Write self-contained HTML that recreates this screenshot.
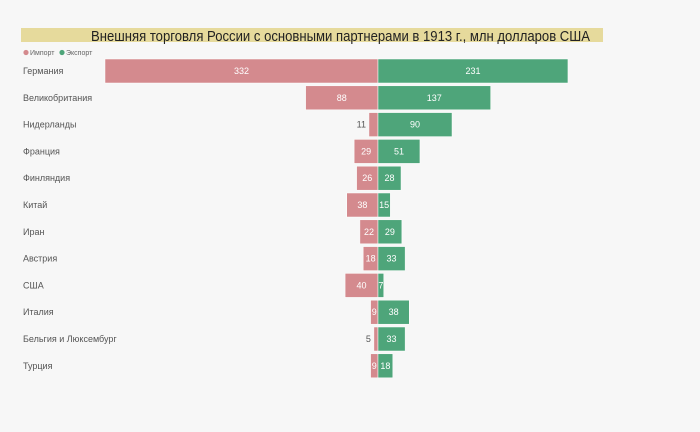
<!DOCTYPE html>
<html><head><meta charset="utf-8"><style>
body{margin:0;background:#f7f7f7;}
svg{display:block;font-family:"Liberation Sans",sans-serif;}
</style></head><body>
<svg width="700" height="432" viewBox="0 0 700 432" xmlns="http://www.w3.org/2000/svg">
<rect width="700" height="432" fill="#f7f7f7"/>
<rect x="21" y="28" width="582" height="14" fill="#e6da9c"/>
<text x="91" y="41" font-size="14.5" textLength="499" lengthAdjust="spacingAndGlyphs" fill="#222">Внешняя торговля России с основными партнерами в 1913 г., млн долларов США</text>
<circle cx="26" cy="52.5" r="2.6" fill="#d48a8e"/>
<text x="30" y="55" font-size="7" fill="#666">Импорт</text>
<circle cx="62" cy="52.5" r="2.6" fill="#4ea57a"/>
<text x="66" y="55" font-size="7" fill="#666">Экспорт</text>
<g id="rows" font-size="9"></g>
</svg>
<script>
var d=[["Германия",332,231],["Великобритания",88,137],["Нидерланды",11,90],["Франция",29,51],["Финляндия",26,28],["Китай",38,15],["Иран",22,29],["Австрия",18,33],["США",40,7],["Италия",9,38],["Бельгия и Люксембург",5,33],["Турция",9,18]];
var s=0.8223,c=378,h="";
d.forEach(function(r,i){var y=71+i*26.8,wi=r[1]*s,we=r[2]*s;
h+='<text x="23" y="'+(y+3)+'" fill="#555">'+r[0]+'</text>';
h+='<rect x="'+(c-wi)+'" y="'+(y-12)+'" width="'+wi+'" height="24" fill="#d48a8e" stroke="#fff" stroke-width="0.5"/>';
h+='<rect x="'+c+'" y="'+(y-12)+'" width="'+we+'" height="24" fill="#4ea57a" stroke="#fff" stroke-width="0.5"/>';
if(r[1]==11||r[1]==5)h+='<text x="'+(c-wi-3)+'" y="'+(y+3)+'" text-anchor="end" fill="#555">'+r[1]+'</text>';
else h+='<text x="'+(c-wi/2)+'" y="'+(y+3)+'" text-anchor="middle" fill="#fff">'+r[1]+'</text>';
h+='<text x="'+(c+we/2)+'" y="'+(y+3)+'" text-anchor="middle" fill="#fff">'+r[2]+'</text>';});
document.getElementById("rows").innerHTML=h;
</script>
</body></html>
